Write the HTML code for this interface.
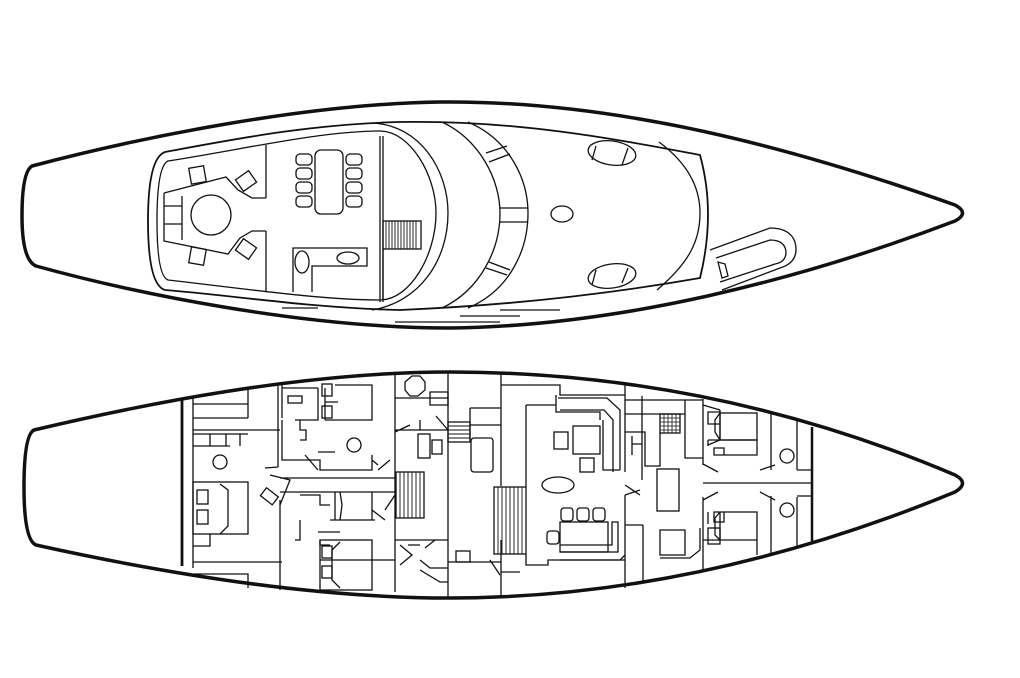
<!DOCTYPE html>
<html><head><meta charset="utf-8"><style>html,body{margin:0;padding:0;background:#fff}svg{display:block}</style></head>
<body>
<svg width="1020" height="678" viewBox="0 0 1020 678" xmlns="http://www.w3.org/2000/svg" fill="none" stroke="#111" stroke-width="1.3">
<!-- TOP HULL -->
<path d="M32,166 C130,140 300,104 440,102 C620,100 800,150 955,205 Q970,213 955,221 C800,280 620,326 450,328 C300,328 130,292 36,266 Q22,260 22,216 Q22,172 32,166 Z" stroke-width="3.5"/>
<!-- cabin outer -->
<path d="M165,152 C230,140 310,124 400,122 C520,120 620,140 700,155 Q716,213 700,278 C620,292 520,305 400,310 C310,308 230,295 165,290 Q148,285 148,221 Q148,158 165,152 Z" stroke-width="1.8"/>
<!-- cabin inner -->
<path d="M168,161 C240,150 320,131 380,131 C410,131 436,175 436,213 C436,255 410,300 380,300 C320,300 240,288 168,280 Q157,276 157,221 Q157,166 168,161 Z"/>
<path d="M372,123 C420,125 448,170 448,213 C448,260 420,302 372,310"/>
<path d="M442,122 C480,140 500,180 500,213 C500,250 480,290 442,308"/>
<path d="M468,122 C510,140 528,180 528,213 C528,250 510,290 468,308"/>
<path d="M659,142 C690,165 700,190 700,213 C700,240 690,262 657,290"/>
<line x1="500" y1="208" x2="528" y2="208"/><line x1="500" y1="222" x2="528" y2="222"/>
<line x1="486" y1="153" x2="507" y2="146"/><line x1="489" y1="162" x2="510" y2="154"/>
<line x1="486" y1="268" x2="507" y2="275"/><line x1="489" y1="262" x2="510" y2="270"/>
<line x1="266" y1="145" x2="266" y2="198"/><line x1="266" y1="231" x2="266" y2="292"/>
<line x1="380" y1="136" x2="380" y2="302"/><line x1="383" y1="136" x2="383" y2="302"/>
<rect x="383" y="221" width="38" height="28"/>
<g stroke-width="0.9"><path d="M386,221v28M389,221v28M392,221v28M395,221v28M398,221v28M401,221v28M404,221v28M407,221v28M410,221v28M413,221v28M416,221v28"/></g>
<line x1="383" y1="249" x2="383" y2="300"/>
<path d="M164,193 L226,177 L238,190 L252,198 L266,198 M164,193 L164,241 L228,254 L240,238 L252,231 L266,231"/>
<line x1="164" y1="206" x2="182" y2="206"/><line x1="164" y1="224" x2="182" y2="224"/><line x1="182" y1="196" x2="182" y2="240"/>
<circle cx="211" cy="215" r="20"/>
<rect x="190" y="167" width="15" height="16" transform="rotate(-10 197 175)"/>
<rect x="190" y="248" width="15" height="16" transform="rotate(10 197 256)"/>
<rect x="238" y="174" width="16" height="14" transform="rotate(-35 246 181)"/>
<rect x="238" y="242" width="16" height="14" transform="rotate(35 246 249)"/>
<rect x="315" y="150" width="28" height="64" rx="6"/>
<g><rect x="296" y="154" width="16" height="11" rx="4"/><rect x="296" y="168" width="16" height="11" rx="4"/><rect x="296" y="182" width="16" height="11" rx="4"/><rect x="296" y="196" width="16" height="11" rx="4"/>
<rect x="346" y="154" width="16" height="11" rx="4"/><rect x="346" y="168" width="16" height="11" rx="4"/><rect x="346" y="182" width="16" height="11" rx="4"/><rect x="346" y="196" width="16" height="11" rx="4"/></g>
<path d="M293,292 V248 H367 V266 H312 V292"/>
<ellipse cx="302" cy="262" rx="7" ry="11"/><ellipse cx="348" cy="258" rx="11" ry="6"/>
<ellipse cx="562" cy="214" rx="11" ry="8"/>
<ellipse cx="612" cy="153" rx="24" ry="12" transform="rotate(8 612 153)"/><path d="M596,146 L592,160 M628,148 L622,165"/>
<ellipse cx="612" cy="276" rx="24" ry="12" transform="rotate(-8 612 276)"/><path d="M596,270 L592,285 M628,268 L622,283"/>
<path d="M710,250 L770,228 Q790,228 795,242 Q800,262 780,268 L722,290 M716,258 L770,240 Q785,240 786,252 Q786,262 775,264 L720,282"/>
<path d="M718,262 L722,278 L728,276 L725,264 Z"/>
<line x1="282" y1="308" x2="318" y2="308"/><line x1="395" y1="322" x2="500" y2="322"/><line x1="500" y1="310" x2="560" y2="310"/><line x1="460" y1="316" x2="520" y2="316"/>
<!-- LOWER HULL -->
<path d="M34,430 C140,405 300,372 450,372 C620,372 790,405 955,475 Q970,483 955,492 C790,560 620,598 450,598 C300,598 140,568 36,545 Q24,540 24,487 Q24,435 34,430 Z" stroke-width="3.5"/>
<line x1="182" y1="398" x2="182" y2="566" stroke-width="2.8"/>
<line x1="193" y1="396" x2="193" y2="568"/>
<line x1="812" y1="427" x2="812" y2="541" stroke-width="2.5"/>
<g>
<line x1="278" y1="386" x2="278" y2="467"/><line x1="280" y1="500" x2="280" y2="590"/>
<line x1="395" y1="375" x2="395" y2="592"/><line x1="448" y1="372" x2="448" y2="597"/>
<line x1="501" y1="372" x2="501" y2="486"/><line x1="501" y1="540" x2="501" y2="598"/>
<line x1="625" y1="385" x2="625" y2="472"/><line x1="625" y1="495" x2="625" y2="588"/>
<line x1="642" y1="396" x2="642" y2="480"/><line x1="643" y1="525" x2="643" y2="582"/>
<line x1="703" y1="399" x2="703" y2="465"/><line x1="703" y1="497" x2="703" y2="571"/>
<line x1="771" y1="413" x2="771" y2="470"/><line x1="771" y1="496" x2="771" y2="555"/>
<line x1="797" y1="420" x2="797" y2="470"/><line x1="797" y1="497" x2="797" y2="547"/>
<line x1="703" y1="483" x2="812" y2="483"/>
</g>
<path d="M193,404 H248 M193,418 H248 M248,388 V418 M193,430 H280 M193,434 H248 M193,446 H230 M210,434 V446 M226,434 V446 M240,434 V446"/>
<circle cx="220" cy="462" r="7"/>
<rect x="193" y="482" width="55" height="52"/><path d="M220,484 L228,490 V526 L220,534"/>
<rect x="197" y="490" width="11" height="14"/><rect x="197" y="510" width="11" height="14"/>
<path d="M193,546 H210 V534 M193,562 H282 M193,574 H248 V588"/>
<path d="M278,467 L265,468 M280,478 H395 M280,492 H395 M270,475 L290,480 L280,505"/>
<rect x="262" y="491" width="15" height="10" transform="rotate(38 269 496)"/>
<path d="M282,385 V418 M282,388 H318 M318,388 V420 H295 M282,420 V460 H320 V470 H372 V455 M325,388 V420 M325,402 H338 M325,420 H338 M335,385 H372 V420 H335"/>
<rect x="288" y="396" width="14" height="7"/>
<rect x="322" y="384" width="10" height="12"/><rect x="322" y="406" width="10" height="12"/>
<circle cx="354" cy="445" r="7"/>
<path d="M300,420 V430 H306 V440 H300 M305,455 L318,470 M318,452 H335 M372,460 L378,465 M378,470 L390,460"/>
<path d="M300,495 H320 V505 H330 M335,492 V520 M340,492 L342,505 L340,520 M330,520 H375 M318,532 H340 M320,540 V545 H330 M300,520 V540 H295 M320,560 H395 M372,492 V520 M372,510 L385,520"/>
<rect x="320" y="540" width="52" height="50"/><path d="M340,542 L332,550 V580 L340,588"/>
<rect x="322" y="546" width="10" height="12"/><rect x="322" y="566" width="10" height="12"/>
<path d="M395,398 H448 M405,382 L412,376 H420 L425,382 V390 L418,396 H410 L405,390 Z M395,432 L410,425 M395,430 H448 M430,392 H448 V405 H430 Z M420,420 V430 M436,416 L448,430"/>
<rect x="418" y="434" width="12" height="24"/><rect x="432" y="440" width="10" height="14"/>
<rect x="448" y="422" width="22" height="20"/>
<g stroke-width="0.9"><path d="M448,426h22M448,430h22M448,434h22M448,438h22"/></g>
<path d="M470,408 H501 M470,408 V440 M470,425 H501"/>
<rect x="471" y="438" width="22" height="34" rx="3"/>
<rect x="396" y="472" width="28" height="46"/>
<g stroke-width="0.9"><path d="M400,472v46M404,472v46M408,472v46M412,472v46M416,472v46M420,472v46"/></g>
<path d="M395,495 L385,510 M395,540 H448 M400,545 L412,555 L400,565 M408,545 H420 M425,548 L435,540 M420,560 L430,568 H448 M420,570 L440,582 H448"/>
<rect x="456" y="551" width="14" height="11"/>
<path d="M448,562 H501 M490,560 L500,575 M501,572 H520"/>
<rect x="494" y="487" width="32" height="67"/>
<g stroke-width="0.9"><path d="M498,487v67M502,487v67M506,487v67M510,487v67M514,487v67M518,487v67M522,487v67"/></g>
<path d="M501,385 H560 V395 H625 M526,405 V487 M526,405 H556 M526,554 V565 H548 V560 H625"/>
<path d="M556,395 V412 H600 V420 M558,398 H607 L620,410 V470 M560,410 H604 L613,420 V472 M603,420 V470 H620"/>
<rect x="573" y="426" width="27" height="28"/>
<rect x="554" y="432" width="14" height="17"/>
<rect x="580" y="458" width="14" height="14"/>
<ellipse cx="558" cy="485" rx="16" ry="8"/>
<g><rect x="561" y="508" width="12" height="13" rx="3"/><rect x="577" y="508" width="12" height="13" rx="3"/><rect x="593" y="508" width="12" height="13" rx="3"/></g>
<rect x="560" y="522" width="48" height="30"/>
<path d="M560,552 H618 V522 H612 V545 H560 M560,560 H620 L625,555"/>
<rect x="547" y="531" width="12" height="13" rx="3"/>
<path d="M625,400 H703 M625,414 H685 M625,432 H645 V466 H660 V432 M685,400 V458 H703"/>
<rect x="660" y="414" width="20" height="19"/>
<g stroke-width="0.8"><path d="M664,414v19M668,414v19M672,414v19M676,414v19M660,418h20M660,422h20M660,426h20M660,430h20"/></g>
<path d="M632,436 V455 M632,444 H642"/>
<path d="M625,485 L640,495 M625,495 L640,490"/>
<rect x="657" y="469" width="22" height="42"/>
<path d="M660,530 H685 V555 H660 Z M660,558 H690 L700,550 V528 M625,525 H643"/>
<path d="M703,405 L720,410 M720,410 V440 L708,445 M708,440 H757 V455 H720 M708,440 V446 M714,448 H724 V455 H714 Z M708,412 H720 V424 H708 Z M703,464 L718,472 M760,470 L775,465"/>
<rect x="720" y="413" width="37" height="27"/><path d="M720,413 L715,420 V432 L720,440"/>
<path d="M720,540 V512 H757 V540 M703,540 H757 V555 M720,512 L715,518 V535 L720,540 M708,512 V524 M714,512 H724 V522 H714 Z M703,500 L718,492 M760,492 L775,500"/>
<rect x="708" y="528" width="12" height="16"/>
<circle cx="787" cy="456" r="7"/><circle cx="787" cy="510" r="7"/>
<path d="M797,470 H812 M797,496 H812"/>
</svg>
</body></html>
